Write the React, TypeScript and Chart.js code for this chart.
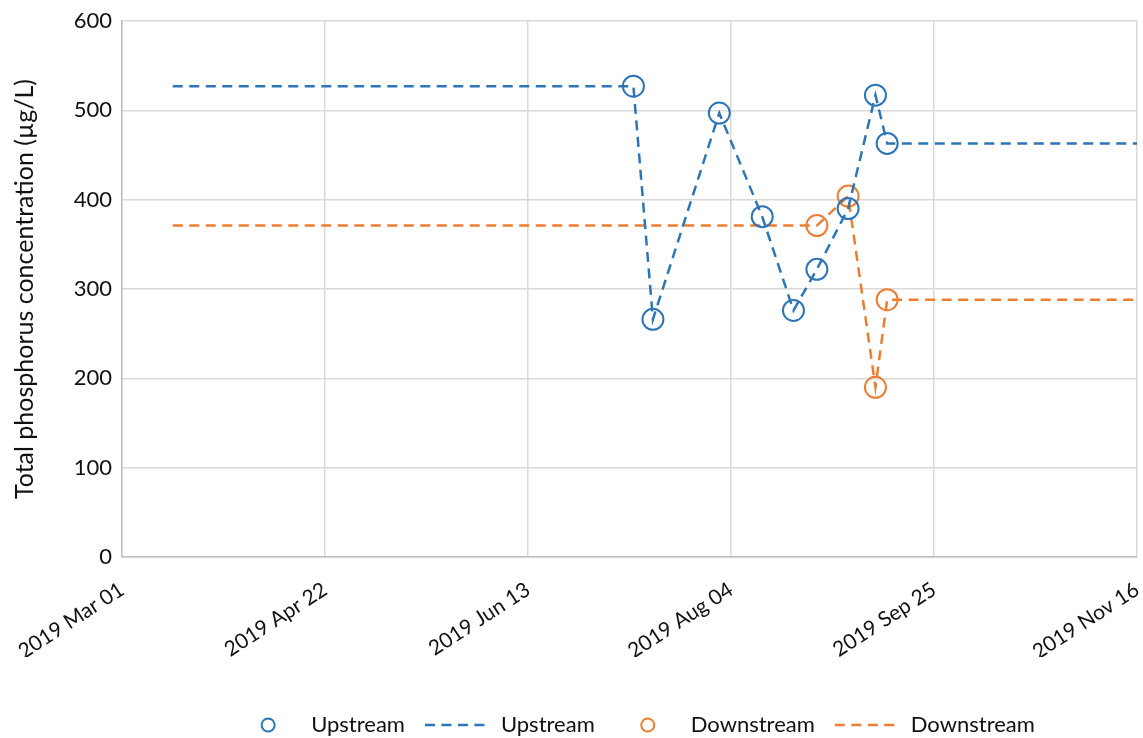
import React, { useEffect, useRef } from "react";
import { Chart, registerables } from "chart.js";

Chart.register(...registerables);

// ---------- data ----------
const axisStartDate = "2019-03-01";
const axisEndDate = "2019-11-16";
const xTickDates = ["2019-03-01", "2019-04-22", "2019-06-13", "2019-08-04", "2019-09-25", "2019-11-16"];
const xTickLabels = ["2019 Mar 01", "2019 Apr 22", "2019 Jun 13", "2019 Aug 04", "2019 Sep 25", "2019 Nov 16"];

const yMin = 0;
const yMax = 600;
const yStep = 100;

const upstreamDates = ["2019-07-10", "2019-07-15", "2019-08-01", "2019-08-12", "2019-08-20", "2019-08-26", "2019-09-03", "2019-09-10", "2019-09-13"];
const upstreamValues = [527, 266, 497, 381, 276, 322, 390, 517, 463];

const upstreamLineDates = ["2019-03-14", "2019-07-10", "2019-07-15", "2019-08-01", "2019-08-12", "2019-08-20", "2019-08-26", "2019-09-03", "2019-09-10", "2019-09-13", "2019-11-16"];
const upstreamLineValues = [527, 527, 266, 497, 381, 276, 322, 390, 517, 463, 463];

const downstreamDates = ["2019-08-26", "2019-09-03", "2019-09-10", "2019-09-13"];
const downstreamValues = [371, 404, 190, 288];

const downstreamLineDates = ["2019-03-14", "2019-08-26", "2019-09-03", "2019-09-10", "2019-09-13", "2019-11-16"];
const downstreamLineValues = [371, 371, 404, 190, 288, 288];

const seriesNames = ["Upstream", "Upstream", "Downstream", "Downstream"];
const yTitle = "Total phosphorus concentration (µg/L)";

// ---------- style ----------
const BLUE = "#2E75B6";
const ORANGE = "#ED7D31";
const FONT = "Lato, 'Liberation Sans', sans-serif";
const TEXT = "#111111";
const DASH = [10, 6.5];

const DAY = 86400000;
const dayOf = (d: string) => Math.round((Date.parse(d) - Date.parse(axisStartDate)) / DAY);
const toPoints = (dates: string[], vals: number[]) => dates.map((d, i) => ({ x: dayOf(d), y: vals[i] }));

const legendPlugin = {
  id: "customLegend",
  afterDraw(chart: any) {
    const ctx = chart.ctx as CanvasRenderingContext2D;
    const ds = chart.data.datasets;
    ctx.save();
    ctx.font = `22px ${FONT}`;
    ctx.textBaseline = "middle";
    const boxW = 66;
    const gapText = 10;
    const gapItem = 20;
    const widths = ds.map((d: any) => ctx.measureText(d.label).width);
    let total = 0;
    widths.forEach((w: number, i: number) => {
      total += boxW + gapText + w + (i < widths.length - 1 ? gapItem : 0);
    });
    let x = 635 - total / 2;
    const y = 725;
    ds.forEach((d: any, i: number) => {
      const color = d.borderColor;
      ctx.strokeStyle = color;
      if (d.showLine) {
        ctx.lineWidth = 2.5;
        ctx.setLineDash(DASH);
        ctx.beginPath();
        ctx.moveTo(x, y);
        ctx.lineTo(x + boxW, y);
        ctx.stroke();
        ctx.setLineDash([]);
      } else {
        ctx.lineWidth = 2;
        ctx.beginPath();
        ctx.arc(x + boxW / 2, y, 6.5, 0, Math.PI * 2);
        ctx.stroke();
      }
      x += boxW + gapText;
      ctx.fillStyle = TEXT;
      ctx.textAlign = "left";
      ctx.fillText(d.label, x, y);
      x += widths[i] + gapItem;
    });
    ctx.restore();
  },
};

export default function App() {
  const ref = useRef<HTMLCanvasElement | null>(null);

  useEffect(() => {
    if (!ref.current) return;
    const tickVals = xTickDates.map(dayOf);
    const chart = new Chart(ref.current, {
      type: "scatter",
      data: {
        datasets: [
          {
            label: seriesNames[0],
            data: toPoints(upstreamDates, upstreamValues),
            showLine: false,
            borderColor: BLUE,
            backgroundColor: "rgba(0,0,0,0)",
            pointRadius: 10.5,
            pointBorderWidth: 2,
            pointHoverRadius: 10.5,
          },
          {
            label: seriesNames[1],
            data: toPoints(upstreamLineDates, upstreamLineValues),
            showLine: true,
            borderColor: BLUE,
            backgroundColor: BLUE,
            borderWidth: 2.5,
            borderDash: DASH,
            pointRadius: 0,
            pointHoverRadius: 0,
          },
          {
            label: seriesNames[2],
            data: toPoints(downstreamDates, downstreamValues),
            showLine: false,
            borderColor: ORANGE,
            backgroundColor: "rgba(0,0,0,0)",
            pointRadius: 10.5,
            pointBorderWidth: 2,
            pointHoverRadius: 10.5,
          },
          {
            label: seriesNames[3],
            data: toPoints(downstreamLineDates, downstreamLineValues),
            showLine: true,
            borderColor: ORANGE,
            backgroundColor: ORANGE,
            borderWidth: 2.5,
            borderDash: DASH,
            pointRadius: 0,
            pointHoverRadius: 0,
          },
        ],
      },
      options: {
        animation: false,
        responsive: false,
        events: [],
        layout: { autoPadding: false, padding: { top: 21, right: 6, bottom: 81, left: 0 } },
        plugins: {
          legend: { display: false },
          tooltip: { enabled: false },
        },
        scales: {
          x: {
            type: "linear",
            min: dayOf(axisStartDate),
            max: dayOf(axisEndDate),
            afterBuildTicks: (s: any) => {
              s.ticks = tickVals.map((v) => ({ value: v }));
            },
            afterFit: (s: any) => {
              s.height = 100;
              s.paddingLeft = 0;
              s.paddingRight = 0;
            },
            ticks: {
              autoSkip: false,
              minRotation: 33,
              maxRotation: 33,
              padding: 20,
              color: TEXT,
              font: { family: FONT, size: 21 },
              callback: (v: any) => {
                const i = tickVals.indexOf(Math.round(Number(v)));
                return i >= 0 ? xTickLabels[i] : "";
              },
            },
            grid: { color: "#D9D9D9", lineWidth: 1.5, drawTicks: false },
            border: { color: "#BFBFBF", width: 1.5 },
          },
          y: {
            min: yMin,
            max: yMax,
            afterFit: (s: any) => {
              s.width = 122;
              s.paddingTop = 0;
              s.paddingBottom = 0;
            },
            ticks: {
              stepSize: yStep,
              padding: 10,
              color: TEXT,
              font: { family: FONT, size: 22 },
            },
            title: {
              display: true,
              text: yTitle,
              color: TEXT,
              font: { family: FONT, size: 25 },
              padding: { top: 10, bottom: 0 },
            },
            grid: { color: "#D9D9D9", lineWidth: 1.5, drawTicks: false },
            border: { color: "#BFBFBF", width: 1.5 },
          },
        },
      },
      plugins: [legendPlugin],
    });
    return () => chart.destroy();
  }, []);

  return (
    <div style={{ position: "fixed", left: 0, top: 0, width: 1143, height: 738, background: "#fff" }}>
      <canvas ref={ref} width={1143} height={738} style={{ display: "block" }} />
    </div>
  );
}
